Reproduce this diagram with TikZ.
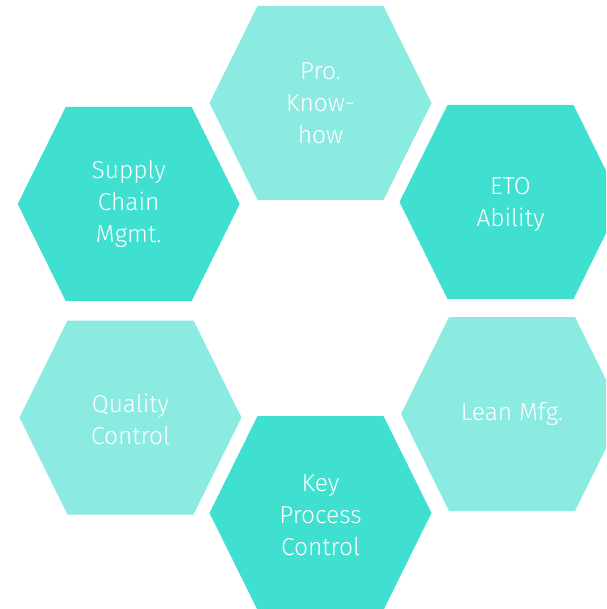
\documentclass[tikz,border=0pt]{standalone}
\usepackage{fontspec}
\setmainfont{Fira Sans}[UprightFont=* Light]
\definecolor{tealdark}{HTML}{40E0D0}
\definecolor{teallight}{HTML}{8CEBE0}
\begin{document}
\begin{tikzpicture}[x=1pt, y=-1pt,
		hexlabel/.style={text=white, align=center, font=\fontsize{24.5}{32}\selectfont} ]
	\useasboundingbox (0,0) rectangle (606,609);
	\clip (0,0) rectangle (606,609);
	% hexagons: centre x / centre y / colour
	\foreach \cx/\cy/\col in {320.5/103/teallight, 510.5/202/tealdark,
		128.7/204/tealdark, 130.5/417.5/teallight,
		512/414/teallight, 320.5/513/tealdark}
	  \fill[\col] (\cx-111,\cy) -- (\cx-63,\cy-97) -- (\cx+63,\cy-97)
		-- (\cx+111,\cy) -- (\cx+63,\cy+97) -- (\cx-63,\cy+97) -- cycle;
	\node [hexlabel] (pro) at (320.5,103) {Pro.\\Know-\\how};
	\node [hexlabel] (eto) at (510.5,204) {ETO\\Ability};
	\node [hexlabel] (scm) at (128.7,204) {Supply\\Chain\\Mgmt.};
	\node [hexlabel] (qc) at (130.5,419) {Quality\\Control};
	\node [hexlabel] (lean) at (512,414) {Lean Mfg.};
	\node [hexlabel] (kpc) at (320.5,515) {Key\\Process\\Control};
	\end{tikzpicture}
\end{document}
